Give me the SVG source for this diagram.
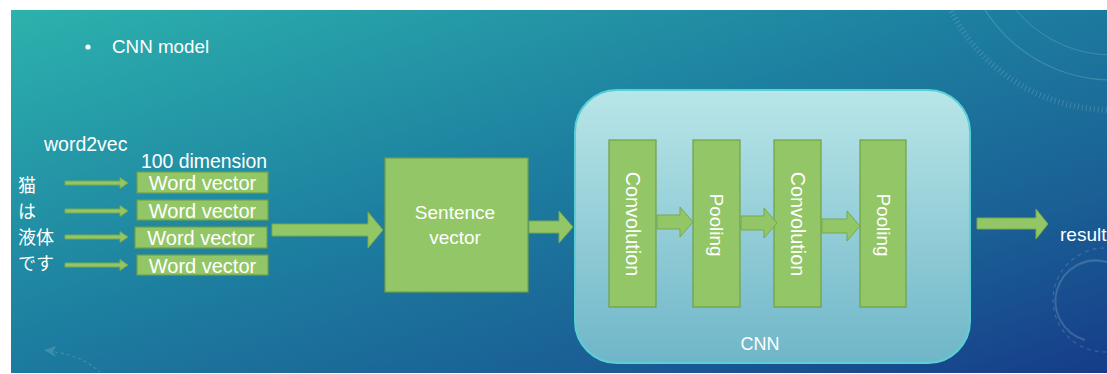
<svg xmlns="http://www.w3.org/2000/svg" width="1107" height="374" viewBox="0 0 1107 374">
<defs>
<linearGradient id="bg" x1="0" y1="0" x2="1" y2="1">
<stop offset="0" stop-color="#2cb2ad"/>
<stop offset="0.45" stop-color="#1d7fa0"/>
<stop offset="0.75" stop-color="#1a5f95"/>
<stop offset="1" stop-color="#163c89"/>
</linearGradient>
<linearGradient id="cnnfill" x1="0" y1="0" x2="0" y2="1">
<stop offset="0" stop-color="#b9e6e8"/>
<stop offset="1" stop-color="#6fb6c8"/>
</linearGradient>
<style>
.g{fill:#93c667;stroke:#6fa046;stroke-width:1.2}
.ar{fill:#93c667;stroke:#76a94c;stroke-width:1}
.t{font-family:"Liberation Sans",Arial,sans-serif;fill:#ffffff}
.jp{font-family:"Noto Sans CJK JP","Noto Sans",sans-serif;fill:#ffffff;font-size:18px}
.deco{fill:none;stroke:#ffffff;stroke-opacity:0.16}
</style>
</defs>
<rect x="0" y="0" width="1107" height="374" fill="#ffffff"/>
<rect x="11" y="10" width="1096" height="363" fill="url(#bg)"/>
<g id="decor">
<circle cx="1112" cy="-70" r="150" class="deco" stroke-width="1.2"/>
<circle cx="1112" cy="-70" r="180" class="deco" stroke-width="6" stroke-dasharray="1 3"/>
<circle cx="1112" cy="-70" r="125" class="deco" stroke-width="1"/>
<circle cx="1105" cy="300" r="52" class="deco" stroke-width="1.2" stroke-dasharray="4 4"/>
<path d="M1085 340 A38 38 0 0 1 1107 262" class="deco" stroke-width="2"/>
<path d="M55 352 Q80 355 100 372" class="deco" stroke-width="1.2" stroke-dasharray="3 3"/>
<path d="M44 350 L56 346 L53 352 L56 357 Z" fill="#ffffff" fill-opacity="0.15"/>
</g>
<g id="title">
<circle cx="88" cy="47" r="2.6" fill="#ffffff"/>
<text class="t" x="112" y="53" font-size="18.8">CNN model</text>
</g>
<g id="labels">
<text class="t" x="44" y="151" font-size="19.5">word2vec</text>
<text class="t" x="141" y="168" font-size="19.4">100 dimension</text>
</g>
<g id="words">
<text class="jp" x="18" y="192">猫</text>
<text class="jp" x="18" y="218">は</text>
<text class="jp" x="18" y="244">液体</text>
<text class="jp" x="18" y="270">です</text>
</g>
<g id="wordvec1"><rect class="g" x="137" y="172" width="131" height="21"/><text class="t" x="202.5" y="190" font-size="20" text-anchor="middle">Word vector</text></g>
<g id="wordvec2"><rect class="g" x="137" y="200" width="131" height="20"/><text class="t" x="202.5" y="218" font-size="20" text-anchor="middle">Word vector</text></g>
<g id="wordvec3"><rect class="g" x="135" y="227" width="132" height="21"/><text class="t" x="201" y="245" font-size="20" text-anchor="middle">Word vector</text></g>
<g id="wordvec4"><rect class="g" x="137" y="255" width="131" height="20"/><text class="t" x="202.5" y="273" font-size="20" text-anchor="middle">Word vector</text></g>
<g id="sentence"><rect class="g" x="385" y="158" width="143" height="134"/>
<text class="t" x="455" y="219" font-size="19" text-anchor="middle">Sentence</text>
<text class="t" x="455" y="244" font-size="19" text-anchor="middle">vector</text></g>
<g id="cnn"><rect x="575" y="90" width="395" height="273" rx="42" ry="42" fill="url(#cnnfill)" stroke="#5ad0d6" stroke-width="2"/>
<text class="t" x="760" y="350" font-size="18" text-anchor="middle">CNN</text></g>
<g id="conv1"><rect class="g" x="609" y="140" width="47" height="167"/><text class="t" transform="translate(632.5 224) rotate(90)" font-size="19.8" text-anchor="middle" dominant-baseline="central">Convolution</text></g>
<g id="pool1"><rect class="g" x="693" y="140" width="47" height="167"/><text class="t" transform="translate(716.5 225) rotate(90)" font-size="18.8" text-anchor="middle" dominant-baseline="central">Pooling</text></g>
<g id="conv2"><rect class="g" x="774" y="140" width="47" height="167"/><text class="t" transform="translate(797.5 224) rotate(90)" font-size="19.8" text-anchor="middle" dominant-baseline="central">Convolution</text></g>
<g id="pool2"><rect class="g" x="860" y="140" width="46" height="167"/><text class="t" transform="translate(883 225) rotate(90)" font-size="18.8" text-anchor="middle" dominant-baseline="central">Pooling</text></g>
<g id="result"><text class="t" x="1060" y="241" font-size="19">result</text></g>
<g id="connectors">
<polygon class="ar" points="65,181 120,181 120,177.5 128,183 120,188.5 120,185 65,185"/>
<polygon class="ar" points="65,209 120,209 120,205.5 128,211 120,216.5 120,213 65,213"/>
<polygon class="ar" points="65,235 120,235 120,231.5 128,237 120,242.5 120,239 65,239"/>
<polygon class="ar" points="65,263 120,263 120,259.5 128,265 120,270.5 120,267 65,267"/>
<polygon class="ar" points="272,224 368,224 368,212 383,230 368,248 368,236 272,236"/>
<polygon class="ar" points="529,221 559,221 559,211 573,227 559,243 559,233 529,233"/>
<polygon class="ar" points="657,215 680,215 680,207 693,222 680,237 680,229 657,229"/>
<polygon class="ar" points="741,216 764,216 764,208 777,223 764,238 764,230 741,230"/>
<polygon class="ar" points="822,219 847,219 847,211 860,226 847,241 847,233 822,233"/>
<polygon class="ar" points="977,218 1036,218 1036,209 1048,224 1036,239 1036,229 977,229"/>
</g>
</svg>
